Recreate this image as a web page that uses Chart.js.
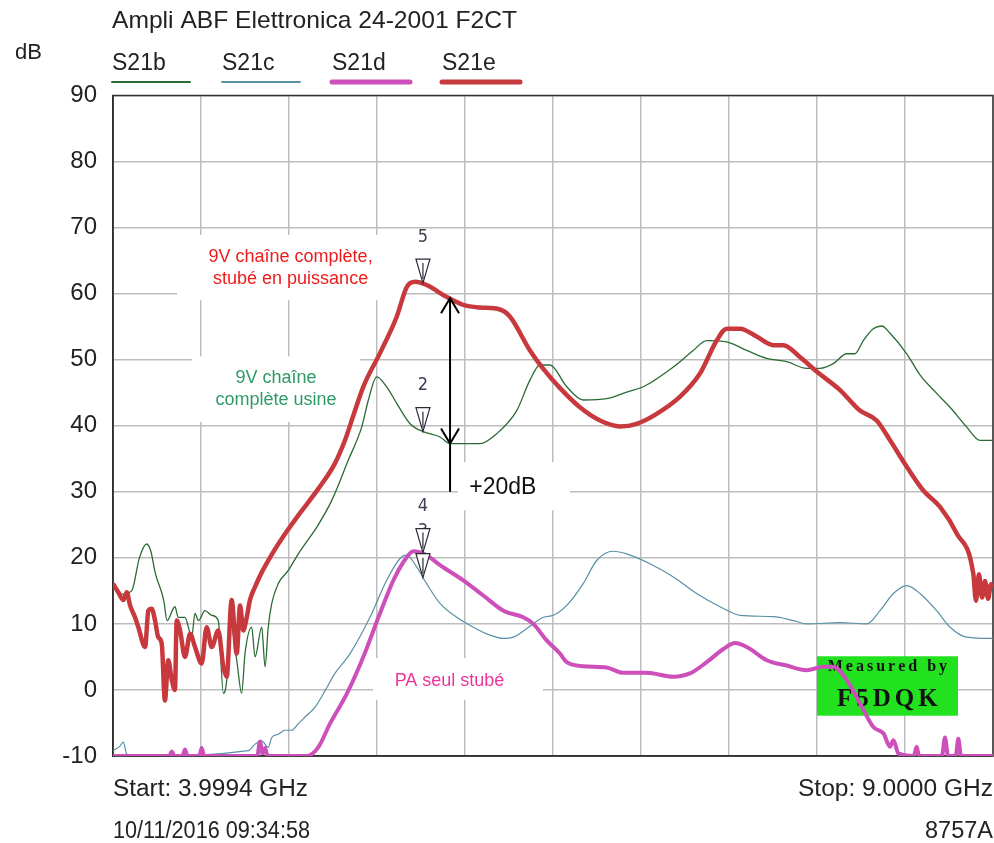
<!DOCTYPE html>
<html>
<head>
<meta charset="utf-8">
<script src="https://cdn.jsdelivr.net/npm/chart.js@4.4.1/dist/chart.umd.min.js"></script>
<style>
  html, body { margin: 0; padding: 0; background: #fff; }
  canvas { display: block; }
</style>
</head>
<body>
<canvas id="s21Chart" width="994" height="843"></canvas>
<script>
// HP 8757A sweep 3.9994 -> 9 GHz (dB)
const seriesNames = ['S21b', 'S21c', 'S21d', 'S21e']
const yTicks = [-10, 0, 10, 20, 30, 40, 50, 60, 70, 80, 90]

// S21b : 9V chaine complete usine
const freqB = [4.000, 4.050, 4.106, 4.150, 4.191, 4.215, 4.241, 4.288, 4.307, 4.352, 4.371, 4.409, 4.447, 4.466, 4.485, 4.523, 4.561, 4.598, 4.627, 4.646, 4.665, 4.703, 4.731, 4.750, 4.788, 4.807, 4.845, 4.864, 4.882, 4.902, 4.939, 4.996, 5.053, 5.166, 5.243, 5.337, 5.413, 5.451, 5.498, 5.555, 5.612, 5.688, 5.763, 5.858, 5.915, 6.085, 6.180, 6.294, 6.369, 6.426, 6.483, 6.578, 6.672, 6.805, 6.919, 7.013, 7.184, 7.297, 7.373, 7.487, 7.601, 7.714, 7.828, 7.941, 8.017, 8.093, 8.169, 8.216, 8.263, 8.320, 8.368, 8.415, 8.510, 8.585, 8.680, 8.756, 8.851, 8.926, 9.000]
const dbB = [16.0, 14.5, 15.0, 20.0, 22.1, 21.0, 17.6, 13.6, 10.5, 12.6, 11.0, 11.0, 8.0, 11.6, 10.5, 12.0, 11.3, 10.5, -0.5, 1.5, 10.5, 4.5, -0.5, 5.5, 9.5, 5.0, 9.5, 3.5, 9.5, 13.1, 16.1, 18.1, 20.6, 25.0, 28.7, 34.8, 39.8, 43.9, 47.4, 45.9, 43.4, 40.3, 39.1, 38.3, 37.3, 37.3, 38.8, 42.3, 46.9, 49.2, 49.2, 45.9, 43.9, 44.1, 45.1, 45.9, 48.9, 51.4, 52.9, 52.7, 51.4, 50.2, 49.7, 48.7, 48.7, 49.4, 50.9, 50.9, 52.9, 54.7, 55.1, 54.0, 50.9, 47.7, 44.9, 42.8, 39.8, 37.8, 37.8]

// S21c
const freqC = [4.000, 4.040, 4.059, 4.078, 4.120, 4.769, 4.807, 4.845, 4.882, 4.902, 4.939, 4.977, 5.015, 5.053, 5.091, 5.148, 5.205, 5.261, 5.347, 5.460, 5.555, 5.631, 5.669, 5.726, 5.782, 5.858, 5.953, 6.047, 6.142, 6.218, 6.275, 6.351, 6.445, 6.502, 6.578, 6.672, 6.748, 6.843, 6.919, 7.051, 7.184, 7.316, 7.449, 7.563, 7.752, 7.866, 7.941, 8.131, 8.283, 8.358, 8.434, 8.510, 8.585, 8.680, 8.756, 8.851, 8.983, 9.000]
const dbC = [-9.2, -8.5, -7.9, -9.7, -10, -9.2, -8.2, -7.7, -8.7, -7.2, -6.7, -6.1, -6.1, -5.1, -4.1, -2.6, -0.1, 2.5, 5.5, 11.0, 16.6, 19.9, 20.4, 18.6, 16.1, 13.1, 11.0, 9.5, 8.3, 7.8, 8.0, 9.3, 11.0, 11.3, 12.8, 16.1, 19.6, 21.0, 20.6, 19.1, 17.1, 14.6, 12.6, 11.3, 11.1, 10.5, 10.0, 10.2, 10.0, 12.0, 14.6, 15.8, 14.6, 12.0, 9.5, 8.0, 7.8, 7.8]

// S21d : PA seul stube
const freqD = [4.000, 4.320, 4.334, 4.348, 4.395, 4.409, 4.423, 4.490, 4.504, 4.518, 4.820, 4.835, 4.850, 4.864, 4.878, 5.101, 5.166, 5.233, 5.328, 5.422, 5.517, 5.593, 5.669, 5.706, 5.782, 5.858, 5.990, 6.104, 6.218, 6.331, 6.388, 6.464, 6.540, 6.578, 6.672, 6.805, 6.899, 7.032, 7.184, 7.278, 7.373, 7.468, 7.534, 7.601, 7.714, 7.828, 7.941, 8.036, 8.093, 8.169, 8.244, 8.320, 8.378, 8.415, 8.434, 8.462, 8.550, 8.566, 8.580, 8.710, 8.727, 8.745, 8.788, 8.803, 8.818, 9.000]
const dbD = [-10, -10, -9.3, -10, -10, -9.0, -10, -10, -8.8, -10, -10, -7.8, -9.6, -8.8, -10, -10, -8.7, -5.1, -0.6, 5.0, 11.6, 16.6, 20.1, 21.0, 20.4, 18.9, 16.6, 14.3, 12.0, 11.0, 10.0, 7.5, 5.5, 4.2, 3.6, 3.4, 2.6, 2.6, 2.0, 2.5, 4.2, 6.2, 7.1, 6.5, 4.5, 3.7, 3.0, 3.5, 3.5, 1.5, -2.0, -5.6, -6.6, -8.6, -7.6, -9.6, -10, -8.6, -10, -10, -7.2, -10, -10, -7.4, -10, -10]

// S21e : 9V chaine complete, stube en puissance
const freqE = [4.000, 4.030, 4.059, 4.078, 4.097, 4.125, 4.144, 4.182, 4.201, 4.220, 4.239, 4.257, 4.277, 4.295, 4.314, 4.334, 4.352, 4.362, 4.381, 4.409, 4.438, 4.466, 4.504, 4.532, 4.561, 4.598, 4.627, 4.646, 4.674, 4.703, 4.722, 4.740, 4.760, 4.778, 4.807, 4.845, 4.902, 4.977, 5.063, 5.165, 5.261, 5.318, 5.365, 5.422, 5.517, 5.612, 5.669, 5.716, 5.782, 5.896, 5.990, 6.085, 6.199, 6.256, 6.369, 6.445, 6.540, 6.653, 6.767, 6.881, 6.976, 7.089, 7.222, 7.335, 7.430, 7.487, 7.563, 7.657, 7.752, 7.809, 7.903, 7.998, 8.131, 8.244, 8.339, 8.415, 8.510, 8.604, 8.699, 8.794, 8.888, 8.903, 8.920, 8.938, 8.955, 8.972, 8.989, 9.000]
const dbE = [16.1, 14.8, 13.6, 14.8, 12.8, 11.0, 9.5, 6.5, 12.0, 12.3, 10.5, 8.0, 7.0, -1.6, 4.5, 1.5, 0.0, 10.5, 9.0, 5.0, 8.5, 6.5, 4.0, 9.5, 6.5, 9.0, 3.5, 2.0, 13.6, 5.5, 12.8, 9.0, 11.0, 13.6, 15.6, 17.8, 20.5, 23.6, 26.8, 30.4, 34.3, 37.8, 41.5, 45.9, 51.0, 56.5, 61.0, 61.8, 61.3, 59.5, 58.3, 57.9, 57.6, 56.5, 51.4, 48.6, 45.7, 42.8, 40.8, 39.9, 40.3, 41.8, 44.4, 47.9, 52.9, 54.7, 54.7, 53.5, 52.2, 52.2, 50.4, 48.2, 45.4, 42.3, 40.8, 37.8, 33.8, 30.2, 27.7, 23.7, 17.6, 13.5, 17.5, 14.0, 16.5, 13.8, 16.0, 15.5]

// markers 2..5, all at the same frequency
const markerLabels = ['2', '3', '4', '5']
const markerFreq = 5.761
const markerDb = [39.1, 17.0, 20.8, 61.6]

const traceColors = ['#2b6b34', '#5a90a6', '#cc4fba', '#c8393d']

const makePoints = (fs, vs) => fs.map((f, i) => ({ x: f, y: vs[i] }))

// text boxes pasted over the plot (frequency / dB units)
const notes = [
  { f0: 4.364, f1: 5.653, top: 68.9, bottom: 59.0, cx: 5.009, rows: [65.6, 62.2],
    lines: ['9V chaîne complète,', 'stubé en puissance'], color: '#ee1b1b', size: 18 },
  { f0: 4.449, f1: 5.403, top: 50.5, bottom: 40.6, cx: 4.926, rows: [47.2, 43.9],
    lines: ['9V chaîne', 'complète usine'], color: '#2e9a66', size: 18 },
  { f0: 5.960, f1: 6.597, top: 34.5, bottom: 27.2, cx: 6.215, rows: [30.7],
    lines: ['+20dB'], color: '#111', size: 23 },
  { f0: 5.477, f1: 6.443, top: 4.8, bottom: -1.5, cx: 5.912, rows: [1.4],
    lines: ['PA seul stubé'], color: '#f0359a', size: 18 },
]
const stamp = { f0: 8.0, f1: 8.801, top: 5.1, bottom: -3.9, cx: 8.40 }
const gainArrow = { f: 5.915, top: 59.3, bottom: 37.3, tail: 30.0 }

function spaced(ctx, str, cx, cy, gap) {
  const chars = Array.from(str)
  const widths = chars.map((c) => ctx.measureText(c).width)
  const total = widths.reduce((a, b) => a + b, 0) + gap * (chars.length - 1)
  let px = cx - total / 2
  ctx.textAlign = 'left'
  chars.forEach((c, i) => {
    ctx.fillText(c, px, cy)
    px += widths[i] + gap
  })
}

// squeeze/stretch a label so it spans the same width as on the plotter printout
function fitText(ctx, str, xPos, yPos, width, alignRight) {
  const k = width / ctx.measureText(str).width
  ctx.save()
  ctx.translate(alignRight ? xPos - width : xPos, yPos)
  ctx.scale(k, 1)
  ctx.textAlign = 'left'
  ctx.fillText(str, 0, 0)
  ctx.restore()
}

const overlay = {
  id: 'overlay',
  beforeDatasetsDraw(chart) {
    const { ctx, chartArea: a, scales: { x, y } } = chart
    ctx.save()
    ctx.strokeStyle = '#333'
    ctx.lineWidth = 1.5
    ctx.strokeRect(a.left, a.top, a.right - a.left, a.bottom - a.top)

    // pasted comment boxes hide the grid, traces stay on top
    notes.forEach((n) => {
      const l = x.getPixelForValue(n.f0)
      const r = x.getPixelForValue(n.f1)
      const t = y.getPixelForValue(n.top)
      const b = y.getPixelForValue(n.bottom)
      ctx.fillStyle = '#fff'
      ctx.fillRect(l, t, r - l, b - t)
      ctx.fillStyle = n.color
      ctx.font = n.size + 'px "Liberation Sans", Arial, sans-serif'
      ctx.textAlign = 'center'
      ctx.textBaseline = 'middle'
      n.lines.forEach((line, i) => {
        ctx.fillText(line, x.getPixelForValue(n.cx), y.getPixelForValue(n.rows[i]))
      })
    })

    // green "Measured by" stamp
    const l = x.getPixelForValue(stamp.f0)
    const r = x.getPixelForValue(stamp.f1)
    const t = y.getPixelForValue(stamp.top)
    const b = y.getPixelForValue(stamp.bottom)
    ctx.fillStyle = '#22e21f'
    ctx.fillRect(l, t, r - l, b - t)
    ctx.fillStyle = '#111'
    ctx.textBaseline = 'middle'
    ctx.font = 'bold 16px "Liberation Serif", "DejaVu Serif", serif'
    spaced(ctx, 'Measured by', x.getPixelForValue(stamp.cx), y.getPixelForValue(3.5), 3)
    ctx.font = 'bold 25px "Liberation Serif", "DejaVu Serif", serif'
    spaced(ctx, 'F5DQK', x.getPixelForValue(stamp.cx), y.getPixelForValue(-1.5), 4)
    ctx.restore()
  },
  afterDatasetsDraw(chart) {
    const { ctx, scales: { x, y } } = chart
    ctx.save()
    // +20dB double arrow
    const ax = x.getPixelForValue(gainArrow.f)
    const aTop = y.getPixelForValue(gainArrow.top)
    const aBot = y.getPixelForValue(gainArrow.bottom)
    ctx.strokeStyle = '#000'
    ctx.lineWidth = 2
    ctx.beginPath()
    ctx.moveTo(ax, aTop)
    ctx.lineTo(ax, y.getPixelForValue(gainArrow.tail))
    ctx.moveTo(ax - 9, aTop + 15)
    ctx.lineTo(ax, aTop)
    ctx.lineTo(ax + 9, aTop + 15)
    ctx.moveTo(ax - 9, aBot - 15)
    ctx.lineTo(ax, aBot)
    ctx.lineTo(ax + 9, aBot - 15)
    ctx.stroke()

    // analyser markers: hollow triangles with their number above
    const mx = x.getPixelForValue(markerFreq)
    ctx.lineWidth = 1.2
    ctx.strokeStyle = '#2a2a35'
    ctx.font = '18px "Liberation Sans Narrow", "DejaVu Sans Condensed", sans-serif'
    ctx.textAlign = 'center'
    ctx.textBaseline = 'middle'
    markerLabels.forEach((lab, i) => {
      const tip = y.getPixelForValue(markerDb[i])
      ctx.fillStyle = '#fff'
      ctx.beginPath()
      ctx.moveTo(mx - 7, tip - 24)
      ctx.lineTo(mx + 7, tip - 24)
      ctx.lineTo(mx, tip)
      ctx.closePath()
      ctx.fill()
      ctx.stroke()
      ctx.beginPath()
      ctx.moveTo(mx, tip - 20)
      ctx.lineTo(mx, tip - 4)
      ctx.stroke()
      ctx.fillStyle = '#3b4152'
      ctx.fillText(lab, mx, tip - 46)
    })
    ctx.restore()
  },
  afterDraw(chart) {
    const ctx = chart.ctx
    const sans = '"Liberation Sans", Arial, sans-serif'
    ctx.save()
    ctx.textBaseline = 'alphabetic'
    ctx.textAlign = 'left'
    ctx.fillStyle = '#222'
    ctx.font = '24px ' + sans
    fitText(ctx, 'Ampli ABF Elettronica 24-2001 F2CT', 112, 28, 405, false)
    ctx.font = '22px ' + sans
    ctx.fillText('dB', 15, 59)

    const legendX = [112, 222, 332, 442]
    const legendW = [2, 2, 5, 5]
    seriesNames.forEach((name, i) => {
      ctx.fillStyle = '#222'
      ctx.font = '23px ' + sans
      ctx.fillText(name, legendX[i], 70)
      ctx.strokeStyle = traceColors[i]
      ctx.lineWidth = legendW[i]
      ctx.lineCap = 'round'
      ctx.beginPath()
      ctx.moveTo(legendX[i], 82)
      ctx.lineTo(legendX[i] + 78, 82)
      ctx.stroke()
    })

    ctx.fillStyle = '#222'
    ctx.font = '23px ' + sans
    fitText(ctx, 'Start: 3.9994 GHz', 113, 796, 195, false)
    fitText(ctx, '10/11/2016 09:34:58', 113, 838, 197, false)
    fitText(ctx, 'Stop: 9.0000 GHz', 993, 796, 195, true)
    fitText(ctx, '8757A', 993, 838, 68, true)
    ctx.restore()
  },
}

const ctx = document.getElementById('s21Chart').getContext('2d')
new Chart(ctx, {
  type: 'line',
  data: {
    datasets: [
      { label: seriesNames[0], data: makePoints(freqB, dbB), borderColor: traceColors[0], borderWidth: 1.3, order: 1 },
      { label: seriesNames[1], data: makePoints(freqC, dbC), borderColor: traceColors[1], borderWidth: 1.2, order: 3 },
      { label: seriesNames[2], data: makePoints(freqD, dbD), borderColor: traceColors[2], borderWidth: 4, order: 2 },
      { label: seriesNames[3], data: makePoints(freqE, dbE), borderColor: traceColors[3], borderWidth: 4.5, order: 0 },
    ],
  },
  options: {
    responsive: false,
    animation: false,
    events: [],
    elements: {
      point: { radius: 0 },
      line: { cubicInterpolationMode: 'monotone', borderJoinStyle: 'round' },
    },
    layout: { padding: { left: 0, right: 1, top: 95.5, bottom: 0 } },
    scales: {
      x: {
        type: 'linear',
        min: 4,
        max: 9,
        ticks: { display: false, stepSize: 0.5 },
        grid: { color: '#bdbdbd', lineWidth: 1.5, drawTicks: false },
        border: { color: '#222', width: 1.5 },
        afterFit: (s) => { s.height = 87 },
      },
      y: {
        type: 'linear',
        min: -10,
        max: 90,
        afterBuildTicks: (s) => { s.ticks = yTicks.map((v) => ({ value: v })) },
        ticks: { color: '#222', padding: 16, font: { size: 24, family: '"Liberation Sans", Arial, sans-serif' } },
        grid: { color: '#bdbdbd', lineWidth: 1.5, drawTicks: false },
        border: { color: '#222', width: 1.5 },
        afterFit: (s) => { s.width = 113 },
      },
    },
    plugins: {
      legend: { display: false },
      tooltip: { enabled: false },
    },
  },
  plugins: [overlay],
})
</script>
</body>
</html>
